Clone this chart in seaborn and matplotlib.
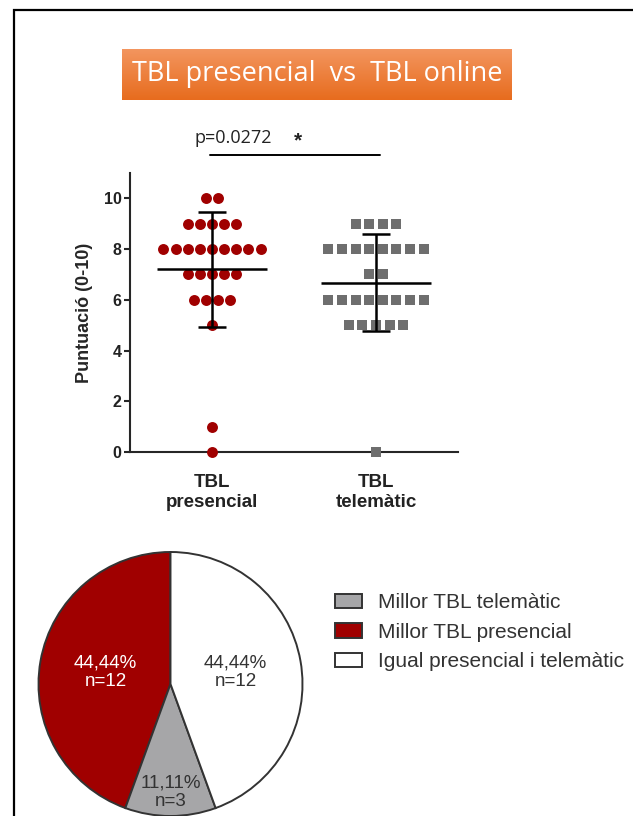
import numpy as np
import pandas as pd
import matplotlib
matplotlib.use("Agg")
import matplotlib.pyplot as plt
import seaborn as sns
from matplotlib.patches import Rectangle
from matplotlib.colors import LinearSegmentedColormap

# scores (0-10)
groups = ["TBL\npresencial", "TBL\ntelemàtic"]
score_values = [10, 9, 8, 7, 6, 5, 1, 0]
presencial_counts = [2, 5, 9, 5, 4, 1, 1, 1]
telematic_values = [9, 8, 7, 6, 5, 0]
telematic_counts = [4, 8, 2, 8, 5, 1]

# pie: preference between the two formats
pie_labels = ["Millor TBL presencial", "Millor TBL telemàtic", "Igual presencial i telemàtic"]
pie_n = [12, 3, 12]
pie_pct = ["44,44%", "11,11%", "44,44%"]

red = "#a00000"
gray = "#6e6e6e"


def spread(values, counts, idx, step):
    # GraphPad-like scatter: equal values laid out side by side, centred on the group
    xs, ys = [], []
    for v, k in zip(values, counts):
        xs.extend(idx + (np.arange(k) - (k - 1) / 2) * step)
        ys.extend([v] * k)
    return pd.DataFrame({"x": xs, "score": ys})


pres = spread(score_values, presencial_counts, 0, 0.074)
tele = spread(telematic_values, telematic_counts, 1, 0.083)

sns.set_style("ticks")
plt.rcParams["font.family"] = ["Liberation Sans", "DejaVu Sans"]

fig = plt.figure(figsize=(6.33, 8.16), dpi=100)

# frame round the panel
fig.patches.append(Rectangle((14 / 633, -0.05), 1.2, 1.05 - 10 / 816, transform=fig.transFigure,
                             fill=False, edgecolor="black", linewidth=1.6, clip_on=False))

# title box with orange gradient
ax_t = fig.add_axes([122 / 633, 1 - 100 / 816, 390 / 633, 51 / 816])
grad = np.linspace(0, 1, 50).reshape(-1, 1)
cmap = LinearSegmentedColormap.from_list("org", ["#f3955e", "#e76c1e"])
ax_t.imshow(grad, aspect="auto", cmap=cmap, extent=[0, 1, 0, 1])
ax_t.text(0.5, 0.5, "TBL presencial  vs  TBL online", color="white", fontsize=19.5,
          ha="center", va="center", family=["Open Sans", "DejaVu Sans"])
ax_t.set_axis_off()

# dot plot
ax = fig.add_axes([130 / 633, 1 - 452 / 816, 328 / 633, 279 / 816])
sns.scatterplot(data=pres, x="x", y="score", color=red, marker="o", s=62,
                linewidth=0, ax=ax, clip_on=False, zorder=3)
sns.scatterplot(data=tele, x="x", y="score", color=gray, marker="s", s=52,
                linewidth=0, ax=ax, clip_on=False, zorder=3)

all_scores = [pres["score"], tele["score"]]
for i, sc in enumerate(all_scores):
    m, s = sc.mean(), sc.std()
    ax.errorbar(i, m, yerr=s, fmt="none", ecolor="black", elinewidth=1.8,
                capsize=10, capthick=1.8, zorder=5)
    ax.hlines(m, i - 0.335, i + 0.335, color="black", linewidth=1.8, zorder=5)

ax.set_xlim(-0.5, 1.5)
ax.set_ylim(0, 11)
ax.set_xticks([0, 1])
ax.set_xticklabels(groups)
ax.set_yticks([0, 2, 4, 6, 8, 10])
ax.set_xlabel("")
ax.set_ylabel("Puntuació (0-10)", fontsize=13, fontweight="bold", labelpad=8)
sns.despine(ax=ax)
for sp in ["left", "bottom"]:
    ax.spines[sp].set_linewidth(1.5)
ax.tick_params(axis="y", length=4, width=1.5, labelsize=11.5, pad=2)
ax.tick_params(axis="x", length=0, labelsize=13.5, pad=16)
for lab in ax.get_xticklabels() + ax.get_yticklabels():
    lab.set_fontweight("bold")
    lab.set_color("#222222")

# significance bar
fig.text(233 / 633, 1 - 138 / 816, "p=0.0272", fontsize=13, ha="center", va="center",
         family=["Open Sans", "DejaVu Sans"], color="#222222")
fig.text(298 / 633, 1 - 141 / 816, "*", fontsize=15, fontweight="bold", ha="center",
         va="center", color="#222222")
fig.lines.append(plt.Line2D([210 / 633, 380 / 633], [1 - 155 / 816, 1 - 155 / 816],
                            transform=fig.transFigure, color="black", linewidth=1.4))

# pie chart
ax_p = fig.add_axes([(170.5 - 132) / 633, (816 - 684 - 132) / 816, 264 / 633, 264 / 816])
wedges, _ = ax_p.pie(pie_n, colors=[red, "#a6a6a8", "white"], startangle=90, counterclock=True,
                     wedgeprops=dict(edgecolor="#333333", linewidth=1.4))
for w in wedges:
    w.set_clip_on(False)
label_dist = [0.5, 0.82, 0.5]
label_col = ["white", "#333333", "#333333"]
for w, pct, n, d, c in zip(wedges, pie_pct, pie_n, label_dist, label_col):
    ang = np.deg2rad((w.theta1 + w.theta2) / 2)
    ax_p.text(d * np.cos(ang), d * np.sin(ang), f"{pct}\nn={n}", ha="center", va="center",
              fontsize=13.5, color=c, linespacing=1.1)
ax_p.set_xlim(-1, 1)
ax_p.set_ylim(-1, 1)
ax_p.set_aspect("equal")

handles = [wedges[1], wedges[0], wedges[2]]
names = [pie_labels[1], pie_labels[0], pie_labels[2]]
leg = fig.legend(handles, names, loc="upper left", bbox_to_anchor=(327 / 633, 1 - 585 / 816),
                 frameon=False, fontsize=15, handlelength=1.3, handleheight=0.7,
                 handletextpad=0.75, labelspacing=0.5, borderaxespad=0)
for t in leg.get_texts():
    t.set_color("#333333")

fig.savefig("out.png", dpi=100)
